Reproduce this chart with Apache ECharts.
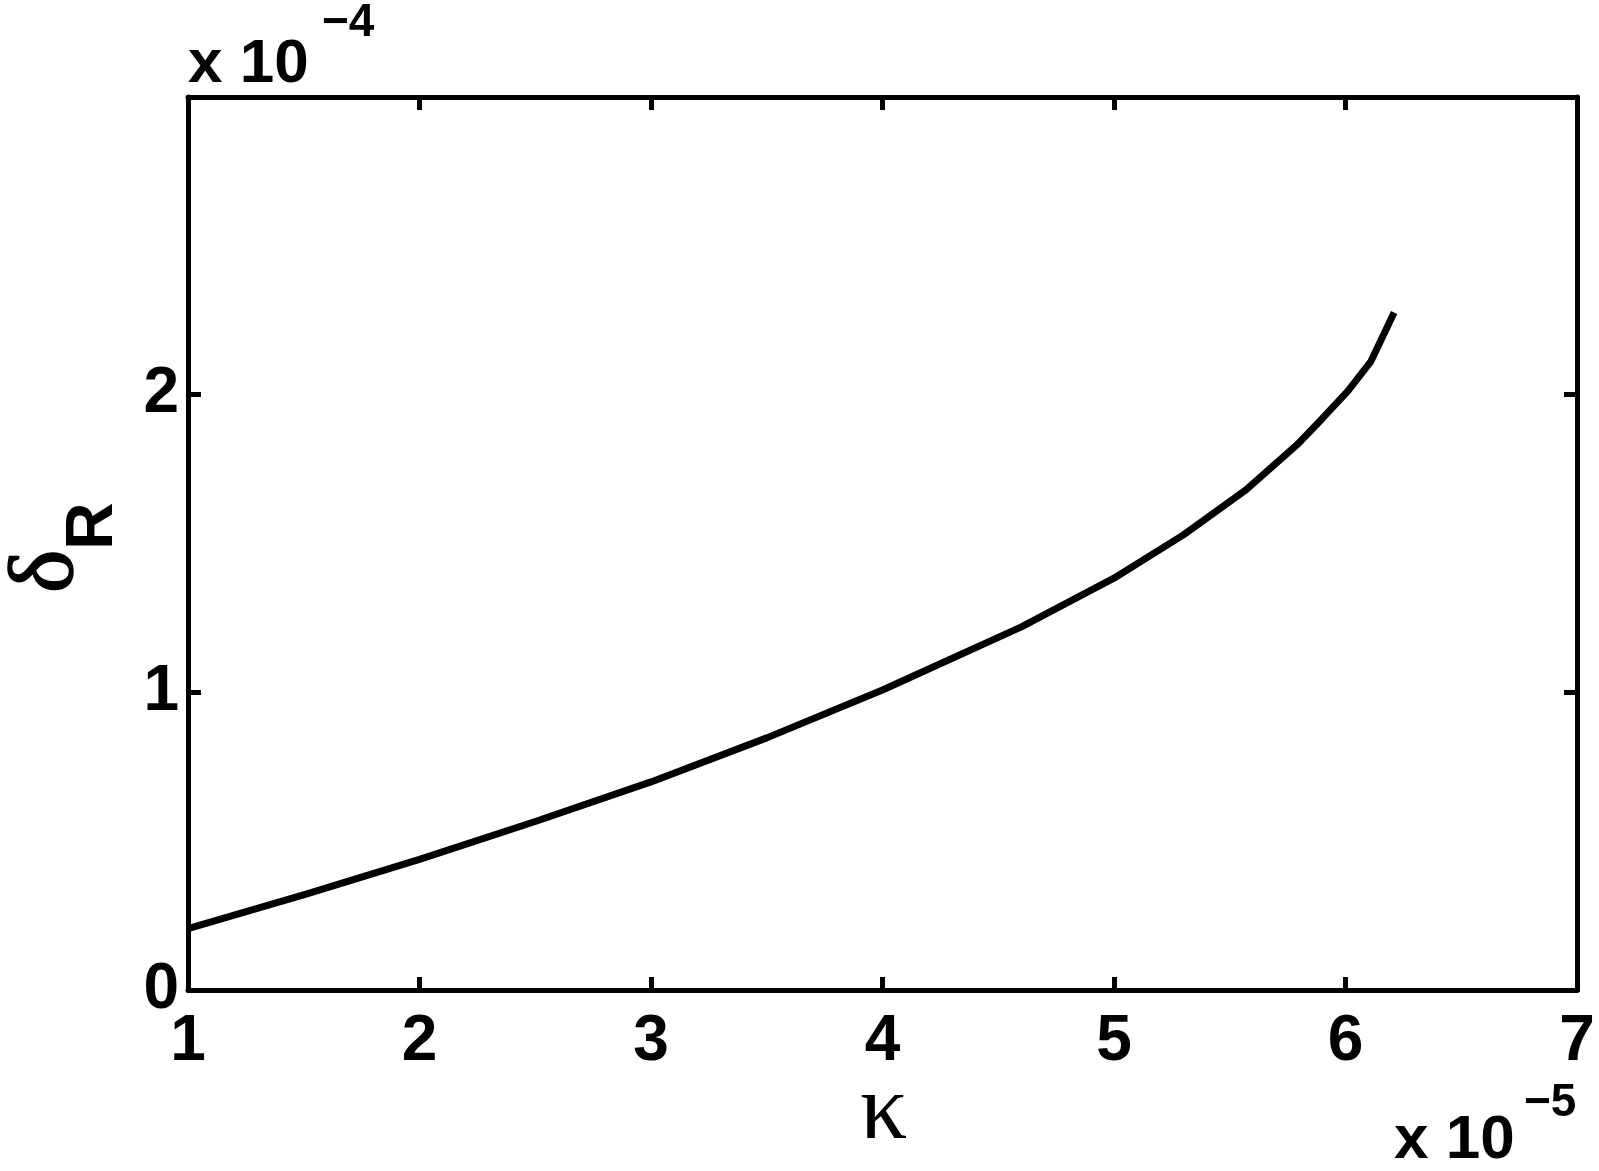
<!DOCTYPE html>
<html>
<head>
<meta charset="utf-8">
<script src="https://cdn.jsdelivr.net/npm/echarts@6/dist/echarts.min.js"></script>
<style>
  html, body { margin: 0; padding: 0; background: #fff; }
  #chart { width: 1599px; height: 1171px; }
</style>
</head>
<body>
<div id="chart"></div>
<script>
// kappa in units of 1e-5, delta_R in units of 1e-4
var kappa = [1.0, 1.51, 2.0, 2.5, 3.0, 3.5, 4.0, 4.6, 5.01, 5.3, 5.57, 5.79, 5.9, 6.01, 6.11, 6.21];
var deltaR = [0.206, 0.322, 0.439, 0.566, 0.699, 0.847, 1.008, 1.22, 1.388, 1.529, 1.68, 1.831, 1.92, 2.012, 2.112, 2.276];
var xTicks = [1, 2, 3, 4, 5, 6, 7];
var yTicks = [0, 1, 2];

var chart = echarts.init(document.getElementById("chart"));
var tickFont = {
  color: "#000",
  fontFamily: "Liberation Sans",
  fontWeight: "bold",
  fontSize: 64
};
var lineSty = { color: "#000", width: 5 };

chart.setOption({
  animation: false,
  grid: { left: 188, right: 22, top: 97, bottom: 181 },
  xAxis: [
    {
      type: "value",
      min: 1,
      max: 7,
      interval: 1,
      axisLine: { onZero: false, lineStyle: lineSty },
      axisTick: { inside: true, length: 13, lineStyle: lineSty },
      splitLine: { show: false },
      axisLabel: Object.assign({ margin: 20 }, tickFont, {
        formatter: function (v) { return xTicks.indexOf(v) >= 0 ? String(v) : ""; }
      })
    },
    {
      type: "value",
      position: "top",
      min: 1,
      max: 7,
      interval: 1,
      axisLine: { onZero: false, lineStyle: lineSty },
      axisTick: { inside: true, length: 13, lineStyle: lineSty },
      splitLine: { show: false },
      axisLabel: { show: false }
    }
  ],
  yAxis: [
    {
      type: "value",
      min: 0,
      max: 3,
      interval: 1,
      axisLine: { show: true, onZero: false, lineStyle: lineSty },
      axisTick: { show: true, inside: true, length: 13, lineStyle: lineSty },
      splitLine: { show: false },
      axisLabel: Object.assign({ margin: 9, showMaxLabel: false }, tickFont, {
        formatter: function (v) { return yTicks.indexOf(v) >= 0 ? String(v) : ""; }
      })
    },
    {
      type: "value",
      position: "right",
      min: 0,
      max: 3,
      interval: 1,
      axisLine: { show: true, onZero: false, lineStyle: lineSty },
      axisTick: { show: true, inside: true, length: 13, lineStyle: lineSty },
      splitLine: { show: false },
      axisLabel: { show: false }
    }
  ],
  series: [
    {
      type: "line",
      xAxisIndex: 0,
      yAxisIndex: 0,
      data: kappa.map(function (k, i) { return [k, deltaR[i]]; }),
      symbol: "none",
      smooth: false,
      lineStyle: { color: "#000", width: 7 }
    }
  ],
  graphic: [
    // y multiplier
    { type: "text", left: 188, top: 34, style: { text: "x 10", fill: "#000", font: "bold 62px 'Liberation Sans'" } },
    { type: "text", left: 322, top: 0, style: { text: "\u22124", fill: "#000", font: "bold 46px 'Liberation Sans'" } },
    // x multiplier
    { type: "text", left: 1394, top: 1110, style: { text: "x 10", fill: "#000", font: "bold 62px 'Liberation Sans'" } },
    { type: "text", left: 1524, top: 1080, style: { text: "\u22125", fill: "#000", font: "bold 46px 'Liberation Sans'" } },
    // x axis name
    { type: "text", left: 860, top: 1066, style: { text: "\u03ba", fill: "#000", font: "94px 'Liberation Serif'" } },
    // y axis name (rotated)
    {
      type: "group",
      x: 80,
      y: 596,
      rotation: Math.PI / 2,
      children: [
        { type: "text", x: 3, y: -32, style: { text: "\u03b4", fill: "#000", font: "92px 'Liberation Serif'", textVerticalAlign: "middle", stroke: "#000", lineWidth: 1.5 } },
        { type: "text", x: 46, y: 14, style: { text: "R", fill: "#000", font: "bold 66px 'Liberation Sans'", textVerticalAlign: "middle" } }
      ]
    }
  ]
});
</script>
</body>
</html>
